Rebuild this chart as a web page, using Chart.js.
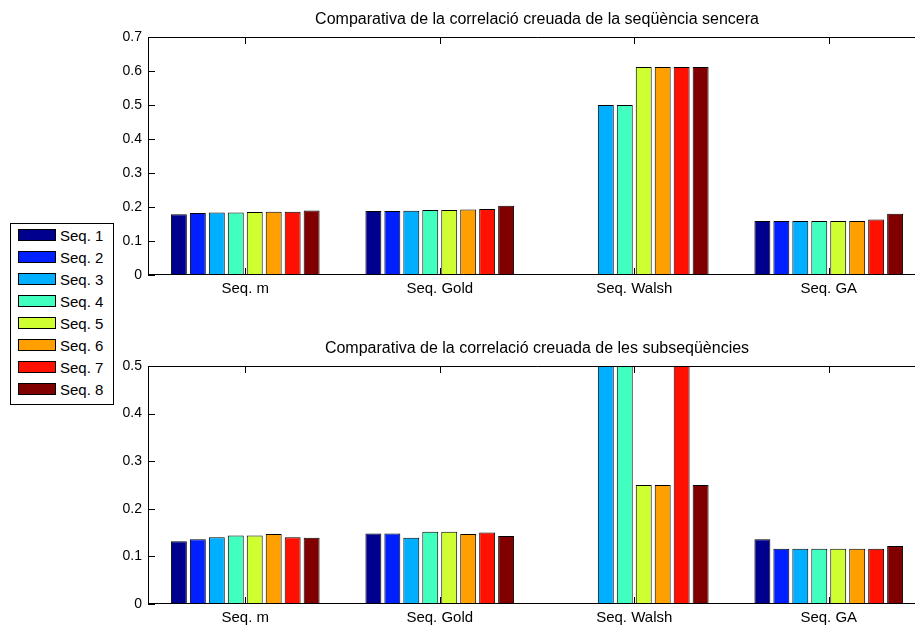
<!DOCTYPE html>
<html>
<head>
<meta charset="utf-8">
<script src="https://cdn.jsdelivr.net/npm/chart.js@4"></script>
<style>
    html, body { margin: 0; padding: 0; background: #fff; overflow: hidden; width: 915px; height: 626px; }
    .box { position: absolute; left: 0; width: 926px; height: 300px; }
    #legend { position: absolute; left: 10px; top: 223px; width: 102px; height: 180px; border: 1px solid #000; background: #fff;
              font-family: "Liberation Sans", Arial, sans-serif; font-size: 15px; }
    .item { position: absolute; left: 7px; height: 18px; line-height: 18px; }
    .sw { display: inline-block; width: 36px; height: 10px; border: 1px solid #000; vertical-align: 0px; margin-right: 4px; }
</style>
</head>
<body>
<div class="box" style="top:0px"><canvas id="topCanvas"></canvas></div>
<div class="box" style="top:329px"><canvas id="botCanvas"></canvas></div>
<div id="legend"></div>
<script>
// Categories and series
const categories = ["Seq. m", "Seq. Gold", "Seq. Walsh", "Seq. GA"];
const seriesNames = ["Seq. 1", "Seq. 2", "Seq. 3", "Seq. 4", "Seq. 5", "Seq. 6", "Seq. 7", "Seq. 8"];
const seriesColors = ["#00008f", "#0020ff", "#00afff", "#40ffbf", "#cfff30", "#ff9f00", "#ff1000", "#800000"];

// Whole sequence cross-correlation, one array per category (Seq. 1..8)
const fullM     = [0.179, 0.182, 0.184, 0.184, 0.185, 0.186, 0.186, 0.190];
const fullGold  = [0.188, 0.188, 0.189, 0.191, 0.191, 0.193, 0.194, 0.204];
const fullWalsh = [0, 0, 0.5, 0.5, 0.612, 0.612, 0.612, 0.612];
const fullGA    = [0.159, 0.159, 0.159, 0.159, 0.159, 0.159, 0.163, 0.180];

// Subsequence cross-correlation
const subM     = [0.132, 0.136, 0.140, 0.144, 0.144, 0.147, 0.140, 0.139];
const subGold  = [0.148, 0.148, 0.139, 0.152, 0.152, 0.147, 0.150, 0.143];
const subWalsh = [0, 0, 0.5, 0.5, 0.25, 0.25, 0.5, 0.25];
const subGA    = [0.136, 0.116, 0.116, 0.116, 0.116, 0.116, 0.116, 0.122];

const topTicks = [0, 0.1, 0.2, 0.3, 0.4, 0.5, 0.6, 0.7];
const botTicks = [0, 0.1, 0.2, 0.3, 0.4, 0.5];

const FONT = "'Liberation Sans', Arial, sans-serif";

// Build datasets: dataset i holds Seq. i+1 for every category
function buildDatasets(groups) {
    return seriesNames.map((name, i) => ({
        label: name,
        data: groups.map(g => g[i]),
        backgroundColor: seriesColors[i],
        borderColor: "#000",
        borderWidth: 1,
        categoryPercentage: 0.78,
        barPercentage: 0.84
    }));
}

// Axis box with inward ticks and a title centred over the plot, matlab style
const boxPlugin = {
    id: "box",
    afterDatasetsDraw(chart, args, opts) {
        const ctx = chart.ctx;
        const a = chart.chartArea;
        const xs = chart.scales.x;
        const ys = chart.scales.y;
        ctx.save();
        ctx.strokeStyle = "#000";
        ctx.lineWidth = 1;
        ctx.beginPath();
        ctx.moveTo(a.left + 0.5, a.top + 0.5);
        ctx.lineTo(a.right, a.top + 0.5);
        ctx.moveTo(a.left + 0.5, a.top);
        ctx.lineTo(a.left + 0.5, a.bottom);
        ctx.moveTo(a.left, a.bottom - 0.5);
        ctx.lineTo(a.right, a.bottom - 0.5);
        ys.ticks.forEach((t, i) => {
            const y = Math.round(ys.getPixelForTick(i)) + 0.5;
            ctx.moveTo(a.left, y);
            ctx.lineTo(a.left + 7, y);
        });
        categories.forEach((c, i) => {
            const x = Math.round(xs.getPixelForValue(i)) + 0.5;
            ctx.moveTo(x, a.bottom);
            ctx.lineTo(x, a.bottom - 7);
            ctx.moveTo(x, a.top);
            ctx.lineTo(x, a.top + 7);
        });
        ctx.stroke();

        ctx.fillStyle = "#000";
        ctx.font = "16px " + FONT;
        ctx.textAlign = "center";
        ctx.textBaseline = "middle";
        ctx.fillText(opts.text, (a.left + a.right) / 2, 20);
        ctx.restore();
    }
};

function makeChart(canvas, groups, title, ticks) {
    const ymax = ticks[ticks.length - 1];
    return new Chart(canvas, {
        type: "bar",
        data: { labels: categories, datasets: buildDatasets(groups) },
        options: {
            responsive: true,
            maintainAspectRatio: false,
            animation: false,
            layout: { padding: { left: 0, right: 0, top: 37, bottom: 0 } },
            plugins: {
                legend: { display: false },
                tooltip: { enabled: false },
                title: { display: false },
                box: { text: title }
            },
            scales: {
                x: {
                    grid: { display: false, drawTicks: false },
                    border: { display: false },
                    ticks: { color: "#000", font: { family: FONT, size: 15 }, padding: 5, maxRotation: 0 },
                    afterFit(scale) { scale.height = 25; }
                },
                y: {
                    min: 0,
                    max: ymax,
                    grid: { display: false, drawTicks: false },
                    border: { display: false },
                    afterBuildTicks(scale) { scale.ticks = ticks.map(v => ({ value: v })); },
                    ticks: {
                        color: "#000",
                        font: { family: FONT, size: 14 },
                        padding: 6,
                        callback: v => String(Math.round(v * 10) / 10)
                    },
                    afterFit(scale) { scale.width = 148; }
                }
            }
        },
        plugins: [boxPlugin]
    });
}

makeChart(document.getElementById("topCanvas"), [fullM, fullGold, fullWalsh, fullGA],
    "Comparativa de la correlació creuada de la seqüència sencera", topTicks);
makeChart(document.getElementById("botCanvas"), [subM, subGold, subWalsh, subGA],
    "Comparativa de la correlació creuada de les subseqüències", botTicks);

// Legend built from the series arrays
const el_legend = document.getElementById("legend");
seriesNames.forEach((name, i) => {
    const item = document.createElement("div");
    item.className = "item";
    item.style.top = (3 + i * 22) + "px";
    item.innerHTML = '<span class="sw" style="background:' + seriesColors[i] + '"></span>' + name;
    el_legend.appendChild(item);
});
</script>
</body>
</html>
